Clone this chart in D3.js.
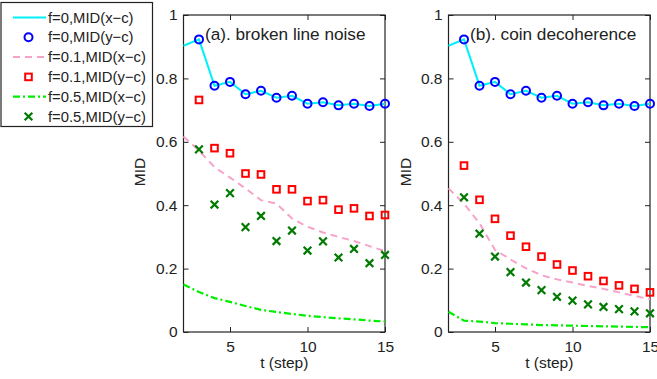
<!DOCTYPE html>
<html><head><meta charset="utf-8">
<script src="https://cdn.jsdelivr.net/npm/d3@7"></script>
<style>body{margin:0;background:#fff}svg{display:block}text{font-family:"Liberation Sans",Arial,sans-serif;fill:#222}</style>
</head><body><svg id="c" width="657" height="379"></svg>
<script>
const tLine = [2,3,4,5,6,7,8,9,10,11,12,13,14,15];
const tPts = [3,4,5,6,7,8,9,10,11,12,13,14,15];
const xTicks = [5,10,15];
const yTicks = [0,0.2,0.4,0.6,0.8,1];
const panelTitles = ["(a). broken line noise","(b). coin decoherence"];
const legendLabels = ["f=0,MID(x\u2212c)","f=0,MID(y\u2212c)","f=0.1,MID(x\u2212c)","f=0.1,MID(y\u2212c)","f=0.5,MID(x\u2212c)","f=0.5,MID(y\u2212c)"];

// panel (a)
const a_f0_xc = [0.903,0.923,0.777,0.789,0.750,0.761,0.739,0.745,0.720,0.725,0.715,0.720,0.713,0.720];
const a_f0_yc = [0.923,0.777,0.789,0.750,0.761,0.739,0.745,0.720,0.725,0.715,0.720,0.713,0.720];
const a_f01_xc = [0.617,0.572,0.520,0.487,0.453,0.416,0.405,0.358,0.332,0.314,0.300,0.287,0.271,0.255];
const a_f01_yc = [0.732,0.580,0.564,0.500,0.497,0.450,0.450,0.413,0.416,0.386,0.390,0.366,0.369];
const a_f05_xc = [0.150,0.126,0.107,0.095,0.082,0.070,0.063,0.057,0.051,0.047,0.043,0.040,0.036,0.033];
const a_f05_yc = [0.576,0.402,0.438,0.331,0.366,0.287,0.320,0.257,0.286,0.235,0.262,0.217,0.243];
// panel (b)
const b_f0_xc = [0.903,0.923,0.777,0.789,0.750,0.761,0.739,0.745,0.720,0.725,0.715,0.720,0.713,0.720];
const b_f0_yc = [0.923,0.777,0.789,0.750,0.761,0.739,0.745,0.720,0.725,0.715,0.720,0.713,0.720];
const b_f01_xc = [0.453,0.405,0.343,0.259,0.229,0.201,0.179,0.166,0.156,0.145,0.136,0.125,0.114,0.103];
const b_f01_yc = [0.525,0.417,0.357,0.304,0.269,0.238,0.213,0.194,0.176,0.161,0.147,0.136,0.125];
const b_f05_xc = [0.064,0.036,0.033,0.028,0.026,0.024,0.022,0.021,0.020,0.019,0.018,0.017,0.016,0.015];
const b_f05_yc = [0.425,0.310,0.238,0.189,0.156,0.132,0.111,0.099,0.087,0.079,0.072,0.065,0.059];

const svg = d3.select("#c");
const C = {cyan:"#00f2f7", blue:"#0000ff", pink:"#f7a3c9", red:"#ff0000", lgreen:"#00ee00", dgreen:"#007a00"};

const panels = [
  {x0:183.5, x1:385, title:panelTitles[0], d:[a_f0_xc,a_f0_yc,a_f01_xc,a_f01_yc,a_f05_xc,a_f05_yc], ylab:140},
  {x0:448.5, x1:650, title:panelTitles[1], d:[b_f0_xc,b_f0_yc,b_f01_xc,b_f01_yc,b_f05_xc,b_f05_yc], ylab:406}
];
const yTop = 15, yBot = 332;

function drawCircle(g, x, y){ g.append("circle").attr("cx",x).attr("cy",y).attr("r",4).attr("fill","none").attr("stroke",C.blue).attr("stroke-width",2); }
function drawSquare(g, x, y){ g.append("rect").attr("x",x-3.3).attr("y",y-3.3).attr("width",6.6).attr("height",6.6).attr("fill","none").attr("stroke",C.red).attr("stroke-width",2); }
const xSym = d3.symbol().type(d3.symbolX).size(40);
function drawX(g, x, y){ g.append("path").attr("d",xSym()).attr("transform",`translate(${x},${y})`).attr("fill","none").attr("stroke",C.dgreen).attr("stroke-width",2.2); }

panels.forEach(p => {
  const x = d3.scaleLinear().domain([2,15]).range([p.x0,p.x1]);
  const y = d3.scaleLinear().domain([0,1]).range([yBot,yTop]);
  const g = svg.append("g");
  const tsize = 5;
  const ax = g.append("g").attr("transform",`translate(0,${yBot})`).call(d3.axisBottom(x).tickValues(xTicks).tickSize(-tsize).tickPadding(9).tickFormat(d3.format("d")));
  const at = g.append("g").attr("transform",`translate(0,${yTop})`).call(d3.axisTop(x).tickValues(xTicks).tickSize(-tsize).tickFormat(""));
  const ay = g.append("g").attr("transform",`translate(${p.x0},0)`).call(d3.axisLeft(y).tickValues(yTicks).tickSize(-tsize).tickPadding(6).tickFormat(d => d===0||d===1 ? String(d) : d3.format(".1f")(d)));
  const ar = g.append("g").attr("transform",`translate(${p.x1},0)`).call(d3.axisRight(y).tickValues(yTicks).tickSize(-tsize).tickFormat(""));
  [ax,at,ay,ar].forEach(a => { a.select(".domain").remove(); a.selectAll("line").attr("stroke","#222").attr("stroke-width",1); a.selectAll("text").attr("font-size",15.5).attr("font-family","Liberation Sans, Arial, sans-serif").attr("fill","#222"); });
  g.append("rect").attr("x",p.x0).attr("y",yTop).attr("width",p.x1-p.x0).attr("height",yBot-yTop).attr("fill","none").attr("stroke","#222").attr("stroke-width",1.2);

  const line = d3.line().x((d,i)=>x(tLine[i])).y(d=>y(d));
  g.append("path").attr("d",line(p.d[4])).attr("fill","none").attr("stroke",C.lgreen).attr("stroke-width",2.2).attr("stroke-dasharray","7,3,2,3");
  g.append("path").attr("d",line(p.d[2])).attr("fill","none").attr("stroke",C.pink).attr("stroke-width",2).attr("stroke-dasharray","7,5");
  g.append("path").attr("d",line(p.d[0])).attr("fill","none").attr("stroke",C.cyan).attr("stroke-width",2);
  p.d[3].forEach((v,i)=>drawSquare(g,x(tPts[i]),y(v)));
  p.d[5].forEach((v,i)=>drawX(g,x(tPts[i]),y(v)));
  p.d[1].forEach((v,i)=>drawCircle(g,x(tPts[i]),y(v)));

  g.append("text").attr("x",p.x0+21.5).attr("y",40).attr("font-size",17.2).text(p.title);
  g.append("text").attr("x",(p.x0+p.x1)/2).attr("y",368).attr("text-anchor","middle").attr("font-size",15.5).text("t (step)");
  g.append("text").attr("transform",`translate(${p.ylab},172) rotate(-90)`).attr("text-anchor","middle").attr("dy","0.35em").attr("font-size",15.5).text("MID");
});

const lg = svg.append("g");
lg.append("rect").attr("x",1).attr("y",2.5).attr("width",151.5).attr("height",124).attr("fill","#fff").attr("stroke","#222").attr("stroke-width",1.2);
legendLabels.forEach((lab,i) => {
  const cy = 17.5 + i*19.8;
  lg.append("text").attr("x",48).attr("y",cy).attr("dy","0.35em").attr("font-size",14.8).text(lab);
  if (i===0) lg.append("line").attr("x1",13).attr("x2",46).attr("y1",cy).attr("y2",cy).attr("stroke",C.cyan).attr("stroke-width",2);
  if (i===2) lg.append("line").attr("x1",13).attr("x2",46).attr("y1",cy).attr("y2",cy).attr("stroke",C.pink).attr("stroke-width",2).attr("stroke-dasharray","7,5");
  if (i===4) lg.append("line").attr("x1",13).attr("x2",46).attr("y1",cy).attr("y2",cy).attr("stroke",C.lgreen).attr("stroke-width",2.2).attr("stroke-dasharray","7,3,2,3");
  if (i===1) drawCircle(lg,28.5,cy);
  if (i===3) drawSquare(lg,28.5,cy);
  if (i===5) drawX(lg,28.5,cy);
});
</script></body></html>
